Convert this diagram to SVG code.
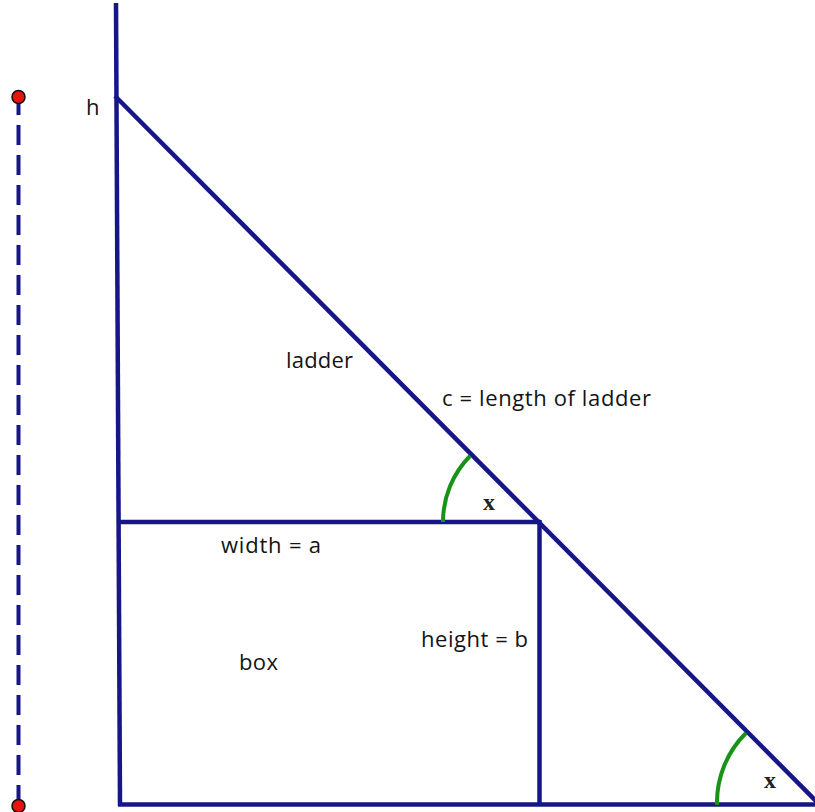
<svg xmlns="http://www.w3.org/2000/svg" width="815" height="812" viewBox="0 0 815 812">
<style>
.ln{stroke:#161688;stroke-width:4.5;fill:none;stroke-linecap:butt}
.arc{stroke:#179417;stroke-width:4;fill:none}
.lbl{font-family:"Open Sans","Liberation Sans",sans-serif;font-size:22px;fill:#141414}
.ang{font-family:"Liberation Serif",serif;font-size:24px;font-weight:bold;fill:#222}
.pt{fill:#e8140c;stroke:#111;stroke-width:1.5}
</style>
<rect width="815" height="812" fill="#ffffff"/>
<g id="connectors">
<line id="wall" class="ln" x1="116" y1="3" x2="120" y2="806"/>
<line id="ground" class="ln" x1="118" y1="804.5" x2="815" y2="804.5"/>
<line id="ladder-line" class="ln" x1="115" y1="96" x2="824" y2="809"/>
<line id="box-top" class="ln" x1="118" y1="522" x2="541" y2="522"/>
<line id="box-right" class="ln" x1="539.5" y1="520" x2="539.5" y2="805"/>
<line id="measure" stroke="#161688" stroke-width="4" stroke-dasharray="20 10" x1="18.5" y1="95" x2="18.5" y2="806"/>
<path class="arc" d="M443,522 A94,94 0 0 1 470,456"/>
<path class="arc" d="M717,805 A98,98 0 0 1 746,733"/>
</g>
<g id="point-top"><circle class="pt" cx="18.5" cy="97" r="6.5"/></g>
<g id="point-bottom"><circle class="pt" cx="18.5" cy="806" r="6.5"/></g>
<g id="label-h"><text class="lbl" x="86" y="115">h</text></g>
<g id="label-ladder"><text class="lbl" x="286" y="368" textLength="67" lengthAdjust="spacing">ladder</text></g>
<g id="label-c"><text class="lbl" x="442" y="406" textLength="209" lengthAdjust="spacing">c = length of ladder</text></g>
<g id="label-width"><text class="lbl" x="221" y="553" textLength="100" lengthAdjust="spacing">width = a</text></g>
<g id="label-height"><text class="lbl" x="421" y="647" textLength="107" lengthAdjust="spacing">height = b</text></g>
<g id="label-box"><text class="lbl" x="239" y="670" textLength="39" lengthAdjust="spacing">box</text></g>
<g id="angle-top"><text class="ang" x="483" y="510">x</text></g>
<g id="angle-bottom"><text class="ang" x="764" y="788">x</text></g>
</svg>
